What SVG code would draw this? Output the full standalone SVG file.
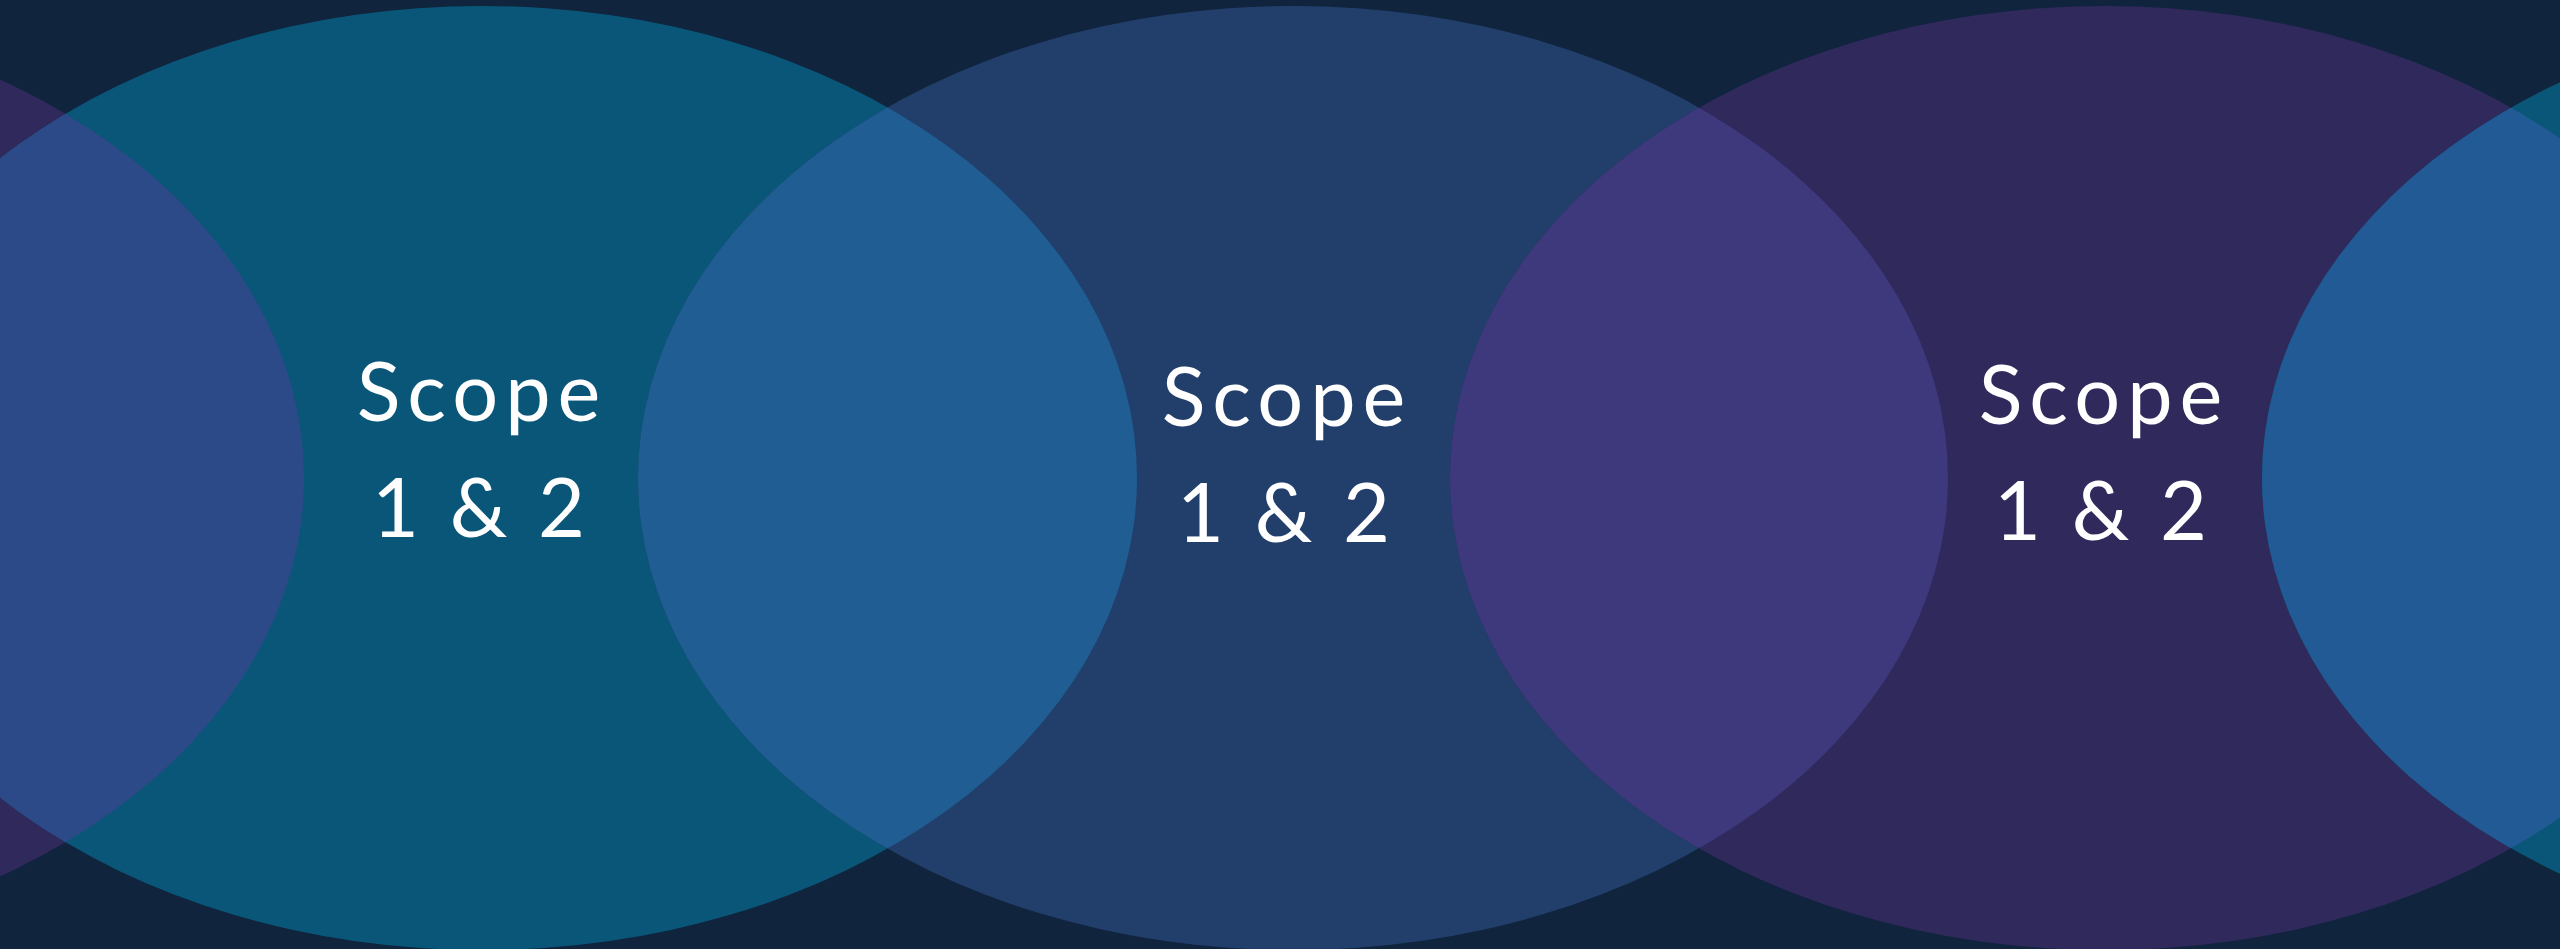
<svg xmlns="http://www.w3.org/2000/svg" width="2560" height="949" viewBox="0 0 2560 949">
<style>
.lbl{font-family:Lato,"Noto Sans",sans-serif;font-size:81px;fill:#ffffff;text-anchor:middle}
.w{letter-spacing:7px}
.n{letter-spacing:5px}
</style>
<defs>
<clipPath id="c0"><ellipse cx="-351" cy="478" rx="655" ry="472"/></clipPath>
<clipPath id="c2"><ellipse cx="1293" cy="478" rx="655" ry="472"/></clipPath>
<clipPath id="c4"><ellipse cx="2917" cy="478" rx="655" ry="472"/></clipPath>
</defs>
<rect width="2560" height="949" fill="#10243d"/>
<g id="shapes">
<ellipse cx="-351" cy="478" rx="655" ry="472" fill="#30295c"/>
<ellipse cx="482" cy="478" rx="655" ry="472" fill="#0a5679"/>
<ellipse cx="1293" cy="478" rx="655" ry="472" fill="#223f6c"/>
<ellipse cx="2105" cy="478" rx="655" ry="472" fill="#30295c"/>
<ellipse cx="2917" cy="478" rx="655" ry="472" fill="#0a5679"/>
<ellipse cx="482" cy="478" rx="655" ry="472" fill="#2c4a88" clip-path="url(#c0)"/>
<ellipse cx="482" cy="478" rx="655" ry="472" fill="#1f5d92" clip-path="url(#c2)"/>
<ellipse cx="2105" cy="478" rx="655" ry="472" fill="#3d397c" clip-path="url(#c2)"/>
<ellipse cx="2105" cy="478" rx="655" ry="472" fill="#215a94" clip-path="url(#c4)"/>
</g>
<g id="node1"><text class="lbl w" x="482" y="421">Scope</text><text class="lbl n" x="481" y="537">1 &amp; 2</text></g>
<g id="node2"><text class="lbl w" x="1287" y="426">Scope</text><text class="lbl n" x="1286" y="542">1 &amp; 2</text></g>
<g id="node3"><text class="lbl w" x="2104" y="424">Scope</text><text class="lbl n" x="2103" y="540">1 &amp; 2</text></g>
<g id="connectors"/>
</svg>
